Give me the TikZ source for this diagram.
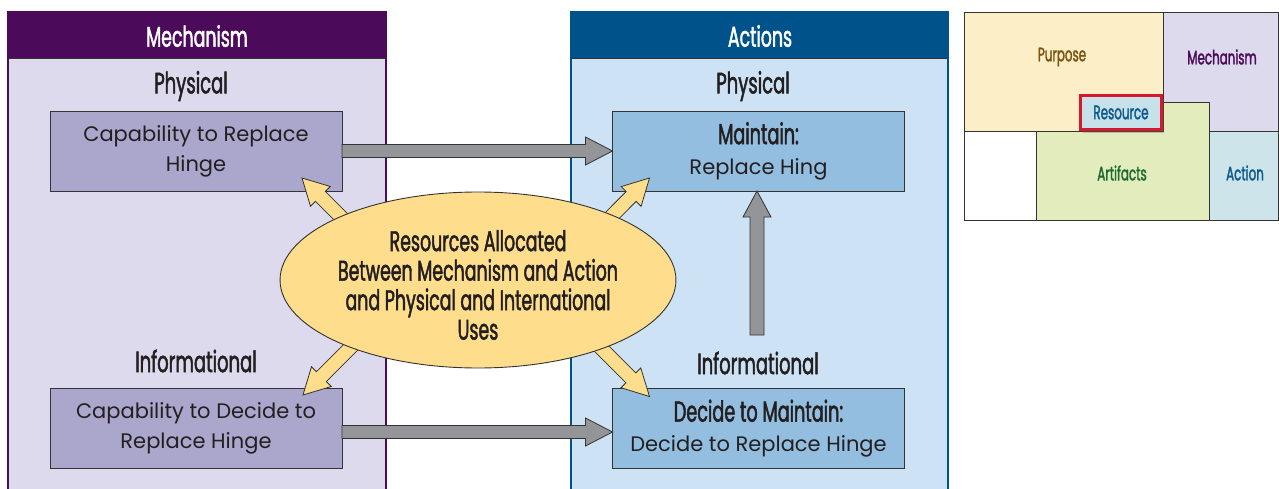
\documentclass[tikz,border=0pt]{standalone}
\usepackage{fontspec}
\setmainfont{Poppins}
\newfontfamily\condf[FakeStretch=0.61, FakeBold=1.6]{Poppins}
\usetikzlibrary{calc,shapes.geometric,shadows}
\definecolor{mpurple}{HTML}{4B0A5A}
\definecolor{mpanel}{HTML}{DCDAEC}
\definecolor{mboxc}{HTML}{ABA6CC}
\definecolor{ablue}{HTML}{00538A}
\definecolor{apanel}{HTML}{CDE3F5}
\definecolor{aboxc}{HTML}{93BEDF}
\definecolor{yel}{HTML}{FEDE8C}
\definecolor{grayarr}{HTML}{939598}
\definecolor{txt}{HTML}{231F20}
\definecolor{edge}{HTML}{333333}
\definecolor{purpfill}{HTML}{FCEFC8}
\definecolor{purptxt}{HTML}{7A5410}
\definecolor{artfill}{HTML}{E3ECBC}
\definecolor{arttxt}{HTML}{1D6A30}
\definecolor{actfill}{HTML}{CDE4EB}
\definecolor{acttxt}{HTML}{0E5A8C}
\definecolor{resfill}{HTML}{C7E1EA}
\definecolor{redb}{HTML}{D7182A}
% fat arrow: style, from, to, shaft half width, head half width, head length
\newcommand\fatarr[6]{%
  \draw[#1] let \p1=(#2), \p2=(#3), \n1={atan2(\y2-\y1,\x2-\x1)}, \n2={veclen(\x2-\x1,\y2-\y1)} in
    ($(\p1)+(\n1-90:#4)$)
    -- ($(\p1)+(\n1:{\n2*1pt-#6})+(\n1-90:#4)$)
    -- ($(\p1)+(\n1:{\n2*1pt-#6})+(\n1-90:#5)$)
    -- (\p2)
    -- ($(\p1)+(\n1:{\n2*1pt-#6})+(\n1+90:#5)$)
    -- ($(\p1)+(\n1:{\n2*1pt-#6})+(\n1+90:#4)$)
    -- ($(\p1)+(\n1+90:#4)$) -- cycle;}
\tikzset{
  hdr/.style={text=white, font=\condf\fontsize{28.5}{30}\selectfont},
  sub/.style={text=txt, font=\condf\fontsize{29.5}{30}\selectfont},
  mbx/.style={draw=edge, line width=0.9pt, fill=mboxc, minimum width=292pt, minimum height=80pt,
     inner sep=0pt, outer sep=0pt, align=center, text=txt, font=\fontsize{21}{30}\selectfont},
  abx/.style={mbx, fill=aboxc},
  ell/.style={ellipse, draw=edge, line width=0.9pt, fill=yel, minimum width=386pt, minimum height=176pt,
     inner sep=0pt, align=center, text=txt, font=\condf\fontsize{28.5}{29.5}\selectfont},
  yarr/.style={draw=edge, line width=0.8pt, fill=yel},
  garr/.style={draw=edge, line width=0.8pt, fill=grayarr},
  leg/.style={draw=edge, line width=0.8pt},
  legtxt/.style={font=\condf\fontsize{19.5}{22}\selectfont}
}
\begin{document}
\begin{tikzpicture}[x=1pt,y=-1pt]
\useasboundingbox (0,0) rectangle (1279,489);
\fill[white] (0,0) rectangle (1279,489);
% ---------------- Mechanism panel
\fill[mpanel] (8,12) rectangle (386,489);
\fill[mpurple] (8,12) rectangle (386,58);
\draw[edge, line width=0.8pt] (8,58) -- (386,58);
\draw[mpurple, line width=2pt] (8,489) -- (8,12) -- (386,12) -- (386,489);
\node[hdr] (mhead) at (197,36) {Mechanism};
% ---------------- Actions panel
\fill[apanel] (571,12) rectangle (948,489);
\fill[ablue] (571,12) rectangle (948,58);
\draw[edge, line width=0.8pt] (571,58) -- (948,58);
\draw[ablue, line width=2pt] (571,489) -- (571,12) -- (948,12) -- (948,489);
\node[hdr] (ahead) at (760,36) {Actions};
% ---------------- sublabels
\node[sub] (mphys) at (191,86) {Physical};
\node[sub] (minfo) at (196,361) {Informational};
\node[sub] (aphys) at (753,86) {Physical};
\node[sub] (ainfo) at (758,363) {Informational};
% ---------------- boxes
\node[mbx] (mb1) at (196,151) {Capability to Replace\\Hinge};
\node[mbx] (mb2) at (196,428) {Capability to Decide to\\Replace Hinge};
\node[abx] (ab1) at (758.5,151) {{\condf\fontsize{29}{29}\selectfont Maintain:}\\Replace Hing};
\node[abx] (ab2) at (758.5,428.5) {{\condf\fontsize{29}{29}\selectfont Decide to Maintain:}\\Decide to Replace Hinge};
% ---------------- gray arrows
\fatarr{garr}{mb1.east}{ab1.west}{6.5pt}{14pt}{27pt}
\coordinate (gb) at ($(mb2.east)+(0,4)$);
\fatarr{garr}{gb}{gb -| ab2.west}{6.5pt}{14pt}{27pt}
\coordinate (vt) at (757,335);
\fatarr{garr}{vt}{vt |- ab1.south}{7pt}{14pt}{26pt}
% ---------------- yellow arrows (behind ellipse)
\coordinate (ec) at (478,280);
\coordinate (s1) at (382,258);
\coordinate (s2) at (570,258);
\coordinate (s3) at (383,315);
\coordinate (s4) at (570,317);
\coordinate (t1) at ($(mb1.south east)+(-40,-13)$);
\coordinate (t2) at ($(ab1.south west)+(37,-13)$);
\coordinate (t3) at ($(mb2.north east)+(-39,7)$);
\coordinate (t4) at ($(ab2.north west)+(37,8)$);
\fatarr{yarr}{s1}{t1}{7pt}{14pt}{26pt}
\fatarr{yarr}{s2}{t2}{7pt}{14pt}{26pt}
\fatarr{yarr}{s3}{t3}{7pt}{14pt}{26pt}
\fatarr{yarr}{s4}{t4}{7pt}{14pt}{26pt}
\node[ell] (ell) at (ec) {\rule{0pt}{31pt}Resources Allocated\\Between Mechanism and Action\\and Physical and International\\Uses};
% ---------------- legend
\draw[leg, fill=mpanel] (1163,12) rectangle (1278,131);
\draw[leg, fill=artfill] (1036,102) rectangle (1209,220);
\draw[leg, fill=purpfill] (964,12) rectangle (1163,131);
\draw[leg, fill=white] (964,131) rectangle (1036,220);
\draw[leg, fill=actfill] (1209,131) rectangle (1278,220);
\node[legtxt, text=purptxt] (lpur) at (1062,57) {Purpose};
\node[legtxt, text=mpurple] (lmech) at (1222,57) {Mechanism};
\node[legtxt, text=arttxt] (lart) at (1122,173) {Artifacts};
\node[legtxt, text=acttxt] (lact) at (1245,173) {Action};
\node[draw=redb, line width=3pt, fill=resfill, minimum width=81pt, minimum height=34pt, inner sep=0pt,
      drop shadow={shadow xshift=2pt, shadow yshift=-4pt, opacity=0.35, fill=black!60},
      legtxt, text=acttxt] (lres) at (1121,112.5) {Resource};
\end{tikzpicture}
\end{document}
